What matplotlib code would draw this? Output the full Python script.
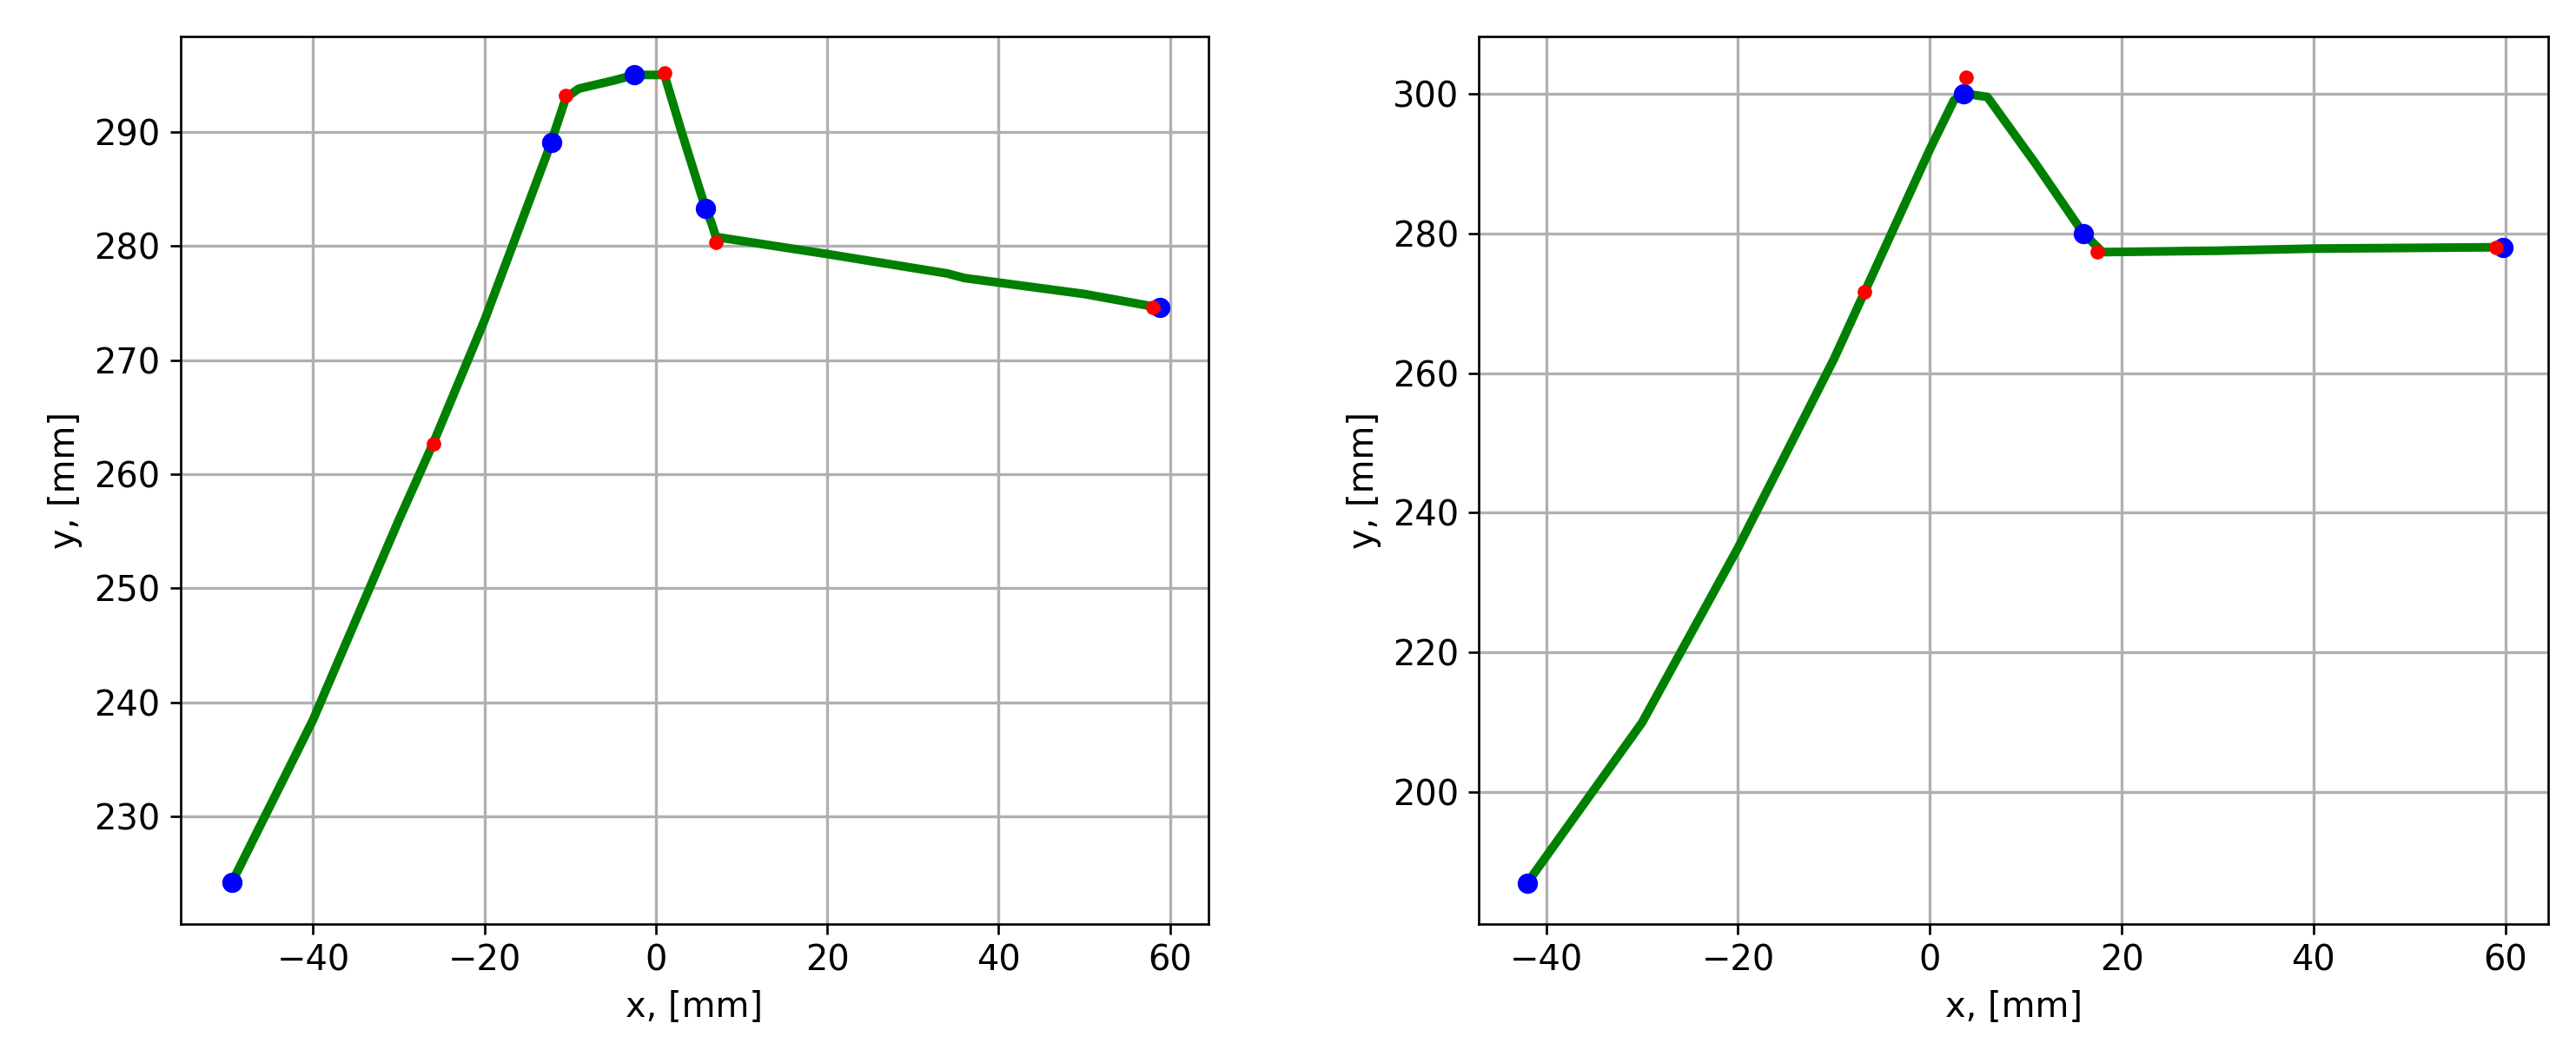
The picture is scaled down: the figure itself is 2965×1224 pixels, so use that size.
import numpy as np
import matplotlib.pyplot as plt

# left panel path
path1_x = [-49.5, -40, -30, -26, -20, -12.5, -10.5, -9, -5, -2.5, 1, 3, 5.8, 6.5, 7, 20, 34, 36, 50, 58.8]
path1_y = [224.2, 238.5, 256.0, 262.7, 273.5, 288.5, 293.0, 293.8, 294.5, 295.0, 295.0, 290.0, 283.3, 282.0, 280.8, 279.3, 277.6, 277.2, 275.8, 274.6]
blue1_x = [-49.5, -12.2, -2.5, 5.8, 58.8]
blue1_y = [224.2, 289.1, 295.0, 283.3, 274.6]
red1_x = [-26.0, -10.5, 1.0, 7.0, 58.0]
red1_y = [262.7, 293.2, 295.2, 280.3, 274.6]

# right panel path
path2_x = [-42, -30, -20, -10, -6.8, 0, 2.5, 3.5, 6, 11, 16, 18, 30, 40, 50, 59.8]
path2_y = [187.0, 210.0, 235.0, 262.0, 271.6, 292.0, 299.0, 300.0, 299.5, 290.0, 280.0, 277.3, 277.5, 277.8, 277.9, 278.0]
blue2_x = [-42.0, 3.5, 16.0, 59.8]
blue2_y = [187.0, 300.0, 280.0, 278.0]
red2_x = [-6.8, 3.8, 17.5, 59.0]
red2_y = [271.6, 302.3, 277.3, 278.0]

fig = plt.figure(figsize=(12.358, 5.1), dpi=240)
ax1 = fig.add_axes([0.070, 0.131, 0.399, 0.835])
ax2 = fig.add_axes([0.574, 0.131, 0.415, 0.835])

for ax, px, py, bx, by, rx, ry in [(ax1, path1_x, path1_y, blue1_x, blue1_y, red1_x, red1_y),
                                   (ax2, path2_x, path2_y, blue2_x, blue2_y, red2_x, red2_y)]:
    ax.plot(px, py, color='green', lw=3, zorder=2)
    ax.plot(bx, by, 'o', color='blue', ms=6, zorder=3)
    ax.plot(rx, ry, 'o', color='red', ms=4, zorder=4)
    ax.grid(True, color='#b0b0b0', lw=1)
    ax.set_axisbelow(True)
    ax.set_xlabel('x, [mm]', fontsize=12)
    ax.set_ylabel('y, [mm]', fontsize=12)
    ax.tick_params(labelsize=12)
    ax.set_xticks([-40, -20, 0, 20, 40, 60])

ax1.set_xlim(-55.5, 64.5)
ax1.set_ylim(220.6, 298.4)
ax1.set_yticks([230, 240, 250, 260, 270, 280, 290])
ax2.set_xlim(-47, 64.5)
ax2.set_ylim(181.2, 308.2)

fig.savefig('out.png')
